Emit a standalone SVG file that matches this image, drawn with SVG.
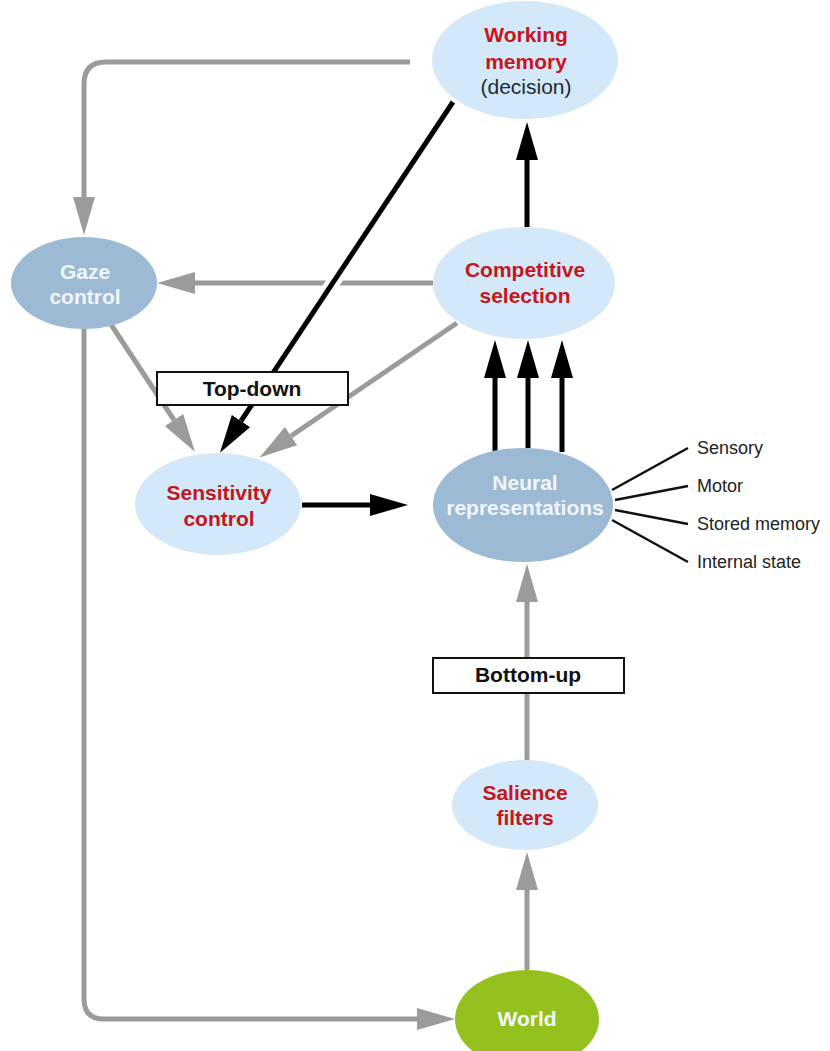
<svg xmlns="http://www.w3.org/2000/svg" width="830" height="1051" viewBox="0 0 830 1051">
<style>
.light{fill:#d3e8f8}
.mid{fill:#9dbad5}
.green{fill:#95c11f}
.t{font-family:"Liberation Sans",Arial,sans-serif;font-size:21px;text-anchor:middle}
.b{font-weight:bold}
.red{fill:#c4161c}
.wht{fill:#f2f6fb}
.dark{fill:#1f2a3a}
.lbl{font-family:"Liberation Sans",Arial,sans-serif;font-size:18px;fill:#222}
.gray{fill:none;stroke:#9b9b9b;stroke-width:5}
.blk{fill:none;stroke:#000;stroke-width:5}
.halo{fill:none;stroke:#fff;stroke-width:14}
.thin{fill:none;stroke:#111;stroke-width:2.5}
.box{fill:#fff;stroke:#111;stroke-width:2}
</style>
<defs>
<marker id="ag" markerUnits="userSpaceOnUse" markerWidth="40" markerHeight="24" refX="0" refY="11" orient="auto"><path d="M0,0 L38,11 L0,22 z" fill="#9b9b9b"/></marker>
<marker id="ab" markerUnits="userSpaceOnUse" markerWidth="40" markerHeight="24" refX="0" refY="11" orient="auto"><path d="M0,0 L38,11 L0,22 z" fill="#000"/></marker>
</defs>
<g id="connectors">
<path class="gray" d="M410,62 H106 Q84,62 84,84 V197" marker-end="url(#ag)"/>
<path class="gray" d="M433,283 H195" marker-end="url(#ag)"/>
<path class="gray" d="M110,323 L174,420" marker-end="url(#ag)"/>
<path class="gray" d="M457,323 L291,436" marker-end="url(#ag)"/>
<path class="gray" d="M84,328 V999 Q84,1019 104,1019 H417" marker-end="url(#ag)"/>
<path class="gray" d="M527,760 V602" marker-end="url(#ag)"/>
<path class="gray" d="M527,970 V890" marker-end="url(#ag)"/>
<path class="halo" d="M400,182 L300,332"/>
<path class="blk" d="M453,102 L241,421" marker-end="url(#ab)"/>
<path class="blk" d="M527,227 V160" marker-end="url(#ab)"/>
<path class="blk" d="M302,505 H370" marker-end="url(#ab)"/>
<path class="blk" d="M495,452 V378" marker-end="url(#ab)"/>
<path class="blk" d="M528,448 V378" marker-end="url(#ab)"/>
<path class="blk" d="M562,452 V378" marker-end="url(#ab)"/>
<path class="thin" d="M612,490 L688,448 M615,500 L688,486 M615,510 L688,524 M612,520 L688,562"/>
</g>
<g id="working-memory">
<ellipse class="light" cx="525" cy="60" rx="93" ry="59"/>
<text class="t b red" x="526" y="42">Working</text>
<text class="t b red" x="526" y="69">memory</text>
<text class="t dark" x="526" y="94">(decision)</text>
</g>
<g id="gaze-control">
<ellipse class="mid" cx="84" cy="283" rx="73" ry="46"/>
<text class="t b wht" x="85" y="279">Gaze</text>
<text class="t b wht" x="85" y="304">control</text>
</g>
<g id="competitive-selection">
<ellipse class="light" cx="524" cy="283" rx="91" ry="56"/>
<text class="t b red" x="525" y="277">Competitive</text>
<text class="t b red" x="525" y="303">selection</text>
</g>
<g id="top-down">
<rect class="box" x="157" y="372" width="191" height="33"/>
<text class="t b" x="252" y="396" fill="#111">Top-down</text>
</g>
<g id="sensitivity-control">
<ellipse class="light" cx="218" cy="504" rx="83" ry="51"/>
<text class="t b red" x="219" y="500">Sensitivity</text>
<text class="t b red" x="219" y="526">control</text>
</g>
<g id="neural-representations">
<ellipse class="mid" cx="523" cy="505" rx="90" ry="57"/>
<text class="t b wht" x="525" y="490">Neural</text>
<text class="t b wht" x="525" y="515">representations</text>
</g>
<g id="labels">
<text class="lbl" x="697" y="454">Sensory</text>
<text class="lbl" x="697" y="492">Motor</text>
<text class="lbl" x="697" y="530">Stored memory</text>
<text class="lbl" x="697" y="568">Internal state</text>
</g>
<g id="bottom-up">
<rect class="box" x="433" y="658" width="191" height="35"/>
<text class="t b" x="528" y="682" fill="#111">Bottom-up</text>
</g>
<g id="salience-filters">
<ellipse class="light" cx="525" cy="805" rx="73" ry="45"/>
<text class="t b red" x="525" y="800">Salience</text>
<text class="t b red" x="525" y="825">filters</text>
</g>
<g id="world">
<ellipse class="green" cx="527" cy="1019" rx="72" ry="49"/>
<text class="t b wht" x="527" y="1026">World</text>
</g>
</svg>
